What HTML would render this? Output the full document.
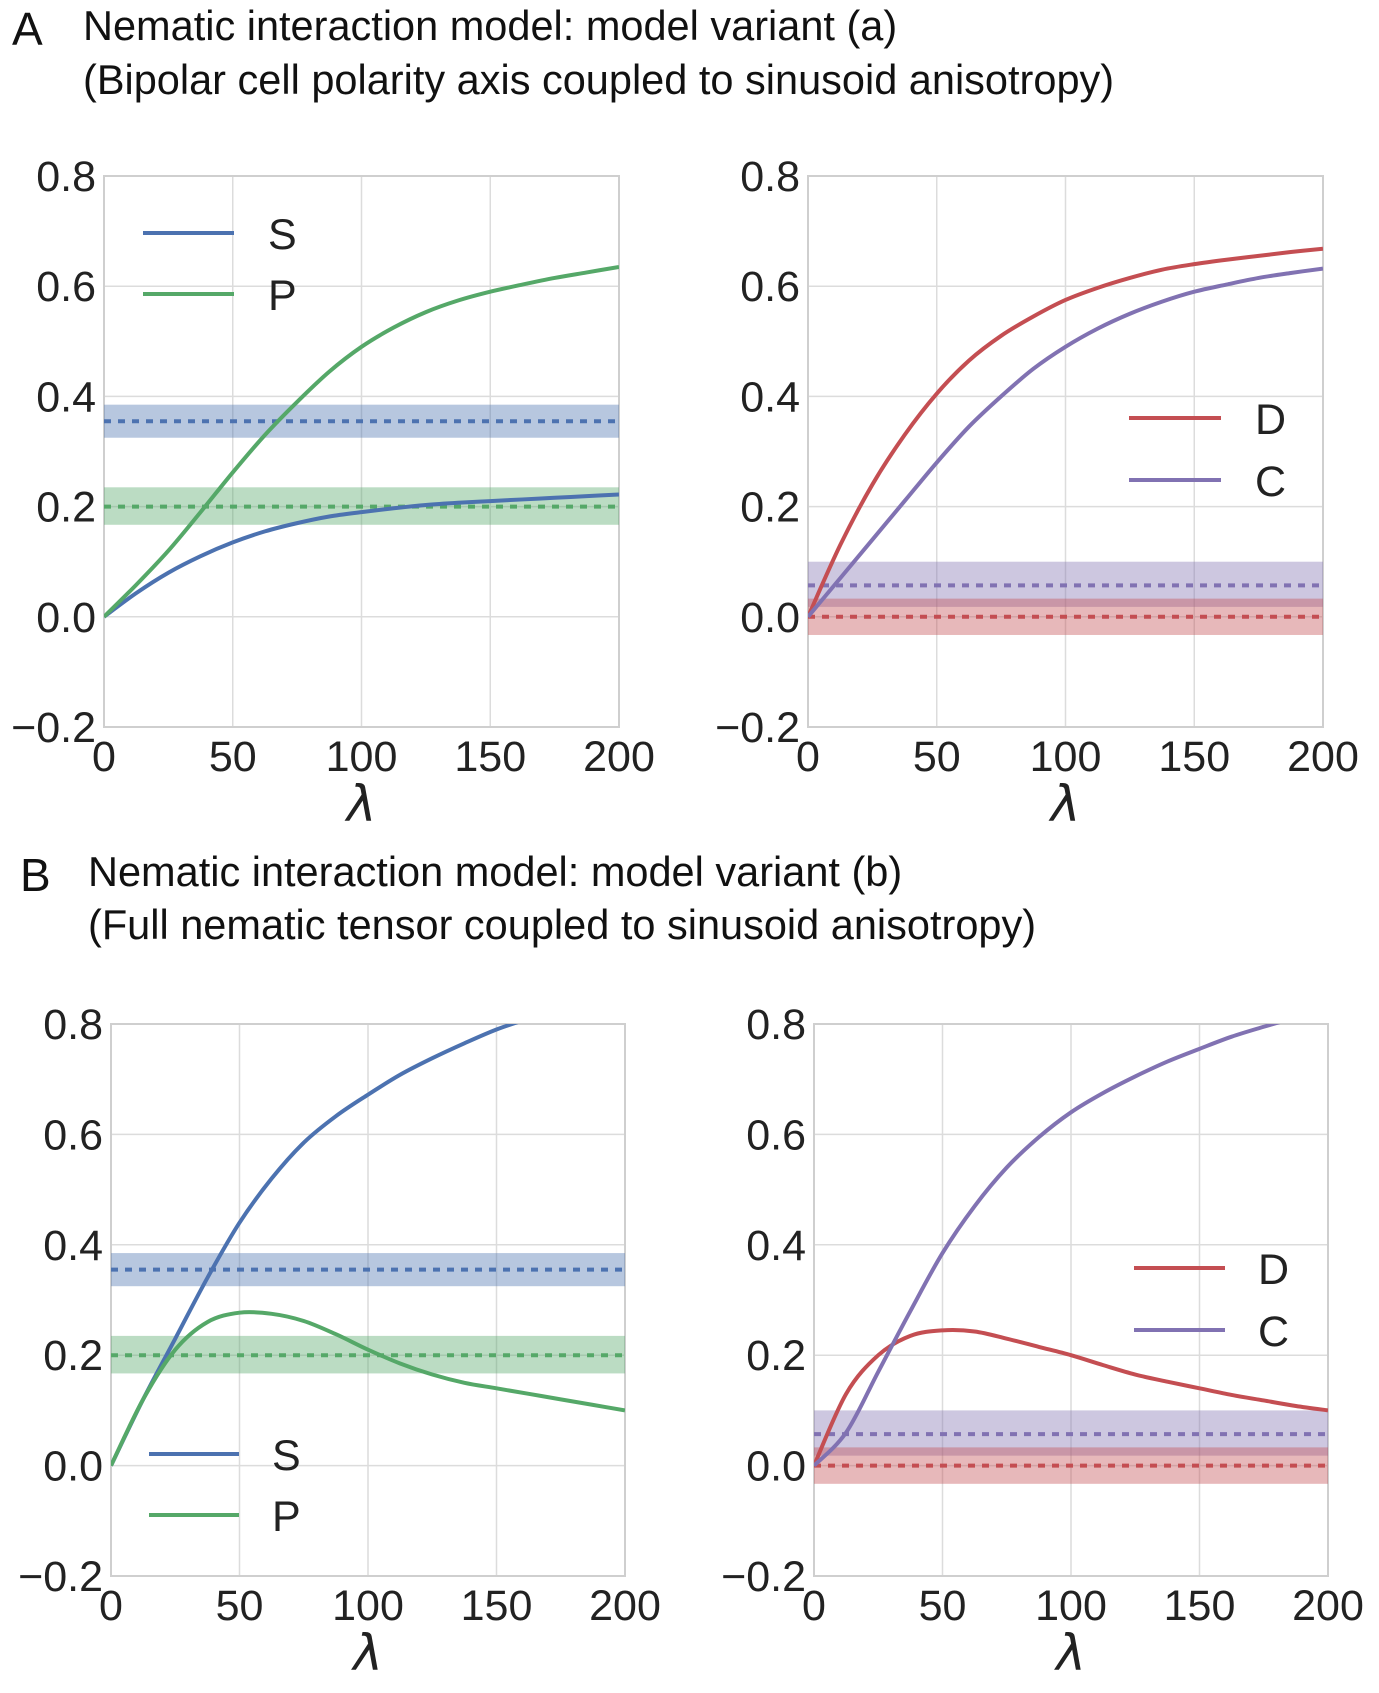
<!DOCTYPE html>
<html><head><meta charset="utf-8"><style>
body{margin:0;background:#fff;}
svg{display:block;font-family:"Liberation Sans",Arial,sans-serif;}
</style></head><body>
<svg id="fig" width="1379" height="1693" viewBox="0 0 1379 1693">
<text x="12" y="45" font-size="46" fill="#111">A</text>
<text x="83" y="40" font-size="41.5" fill="#111">Nematic interaction model: model variant (a)</text>
<text x="83" y="94" font-size="41.5" fill="#111">(Bipolar cell polarity axis coupled to sinusoid anisotropy)</text>
<text x="20" y="891" font-size="46" fill="#111">B</text>
<text x="88" y="886" font-size="41.5" fill="#111">Nematic interaction model: model variant (b)</text>
<text x="88" y="939" font-size="41.5" fill="#111">(Full nematic tensor coupled to sinusoid anisotropy)</text>
</svg>
<script>
const xs = [0,12.5,25,37.5,50,62.5,75,87.5,100,112.5,125,137.5,150,162.5,175,187.5,200];
const yTicks = [-0.2,0.0,0.2,0.4,0.6,0.8];
const yTickLabels = ["\u22120.2","0.0","0.2","0.4","0.6","0.8"];
const xTicks = [0,50,100,150,200];
const aS = [0,0.043,0.08,0.11,0.135,0.155,0.17,0.182,0.19,0.197,0.203,0.207,0.21,0.213,0.216,0.219,0.222];
const aP = [0,0.058,0.12,0.19,0.262,0.33,0.39,0.445,0.49,0.525,0.553,0.574,0.59,0.603,0.615,0.625,0.635];
const aD = [0,0.13,0.24,0.33,0.405,0.465,0.51,0.545,0.575,0.597,0.615,0.63,0.64,0.648,0.655,0.662,0.668];
const aC = [0,0.07,0.14,0.21,0.28,0.345,0.40,0.45,0.49,0.523,0.55,0.572,0.59,0.603,0.615,0.624,0.632];
const bS = [0,0.12,0.23,0.34,0.44,0.52,0.585,0.633,0.672,0.708,0.738,0.765,0.79,0.81,0.83,0.845,0.86];
const bP = [0,0.12,0.21,0.26,0.277,0.275,0.262,0.238,0.21,0.185,0.165,0.15,0.14,0.13,0.12,0.11,0.1];
const bD = [0,0.13,0.2,0.235,0.245,0.243,0.23,0.215,0.2,0.182,0.165,0.152,0.14,0.128,0.118,0.108,0.1];
const bC = [0,0.06,0.17,0.28,0.385,0.47,0.54,0.595,0.64,0.675,0.705,0.732,0.755,0.777,0.795,0.812,0.83];
const bandS = [0.325,0.355,0.385];
const bandP = [0.167,0.2,0.235];
const bandC = [0.018,0.057,0.1];
const bandD = [-0.033,0,0.033];
const COL={S:"#4c72b0",P:"#55a868",D:"#c44e52",C:"#8172b2"};
const NS="http://www.w3.org/2000/svg";
const svg=document.getElementById('fig');
function mk(tag,attrs,parent){const e=document.createElementNS(NS,tag);for(const k in attrs)e.setAttribute(k,attrs[k]);(parent||svg).appendChild(e);return e;}
const panels=[
 {id:"a-left",x0:104,x1:619,y0:176,y1:727,series:[["S",aS],["P",aP]],bands:[["S",bandS],["P",bandP]],leg:{x1:143,x2:234,ys:[233,294],tx:268}},
 {id:"a-right",x0:808,x1:1323,y0:176,y1:727,series:[["D",aD],["C",aC]],bands:[["C",bandC],["D",bandD]],leg:{x1:1129,x2:1221,ys:[418,480],tx:1255}},
 {id:"b-left",x0:111,x1:625,y0:1024,y1:1576,series:[["S",bS],["P",bP]],bands:[["S",bandS],["P",bandP]],leg:{x1:149,x2:239,ys:[1454,1515],tx:272}},
 {id:"b-right",x0:814,x1:1328,y0:1024,y1:1576,series:[["D",bD],["C",bC]],bands:[["C",bandC],["D",bandD]],leg:{x1:1134,x2:1225,ys:[1268,1330],tx:1258}}
];
panels.forEach(p=>{
 const X=v=>p.x0+(v/200)*(p.x1-p.x0);
 const Y=v=>p.y1-((v+0.2)/1.0)*(p.y1-p.y0);
 const g=mk('g',{});
 
 
 const cid='clip-'+p.id;
 const cp=mk('clipPath',{id:cid},g);mk('rect',{x:p.x0,y:p.y0,width:p.x1-p.x0,height:p.y1-p.y0},cp);
 xTicks.forEach(t=>{const l=mk('line',{x1:X(t),x2:X(t),y1:p.y0,y2:p.y1,stroke:"#dcdcdc","stroke-width":1.5},g);
  const tx=mk('text',{x:X(t),y:p.y1+44,"font-size":43,"text-anchor":"middle",fill:"#222"},g);tx.textContent=t;});
 yTicks.forEach((t,i)=>{const l=mk('line',{x1:p.x0,x2:p.x1,y1:Y(t),y2:Y(t),stroke:"#dcdcdc","stroke-width":1.5},g);
  const tx=mk('text',{x:p.x0-8,y:Y(t)+15,"font-size":43,"text-anchor":"end",fill:"#222"},g);tx.textContent=yTickLabels[i];});
 const fr=mk('rect',{x:p.x0,y:p.y0,width:p.x1-p.x0,height:p.y1-p.y0,fill:"none",stroke:"#cfcfcf","stroke-width":2},g);
 p.bands.forEach(([k,b])=>{
  const r=mk('rect',{x:p.x0,y:Y(b[2]),width:p.x1-p.x0,height:Y(b[0])-Y(b[2]),fill:COL[k],"fill-opacity":0.4},g);
  
  const l=mk('line',{x1:p.x0,x2:p.x1,y1:Y(b[1]),y2:Y(b[1]),stroke:COL[k],"stroke-width":4,"stroke-dasharray":"7 7"},g);
  
 });
 p.series.forEach(([k,vals])=>{
  const pts=xs.map((x,i)=>[X(x),Y(vals[i])]);
  let d="M"+pts[0][0]+","+pts[0][1];
  for(let i=0;i<pts.length-1;i++){const p0=pts[Math.max(0,i-1)],p1=pts[i],p2=pts[i+1],p3=pts[Math.min(pts.length-1,i+2)];
   const c1=[p1[0]+(p2[0]-p0[0])/6,p1[1]+(p2[1]-p0[1])/6],c2=[p2[0]-(p3[0]-p1[0])/6,p2[1]-(p3[1]-p1[1])/6];
   d+=" C"+c1+" "+c2+" "+p2;}
  const pa=mk('path',{d:d,fill:"none",stroke:COL[k],"stroke-width":4,"clip-path":"url(#"+cid+")"},g);
  
 });
 p.series.forEach(([k],i)=>{
  const l=mk('line',{x1:p.leg.x1,x2:p.leg.x2,y1:p.leg.ys[i],y2:p.leg.ys[i],stroke:COL[k],"stroke-width":4},g);
  
  const t=mk('text',{x:p.leg.tx,y:p.leg.ys[i]+16,"font-size":43,fill:"#222"},g);t.textContent=k;
  
 });
 const xl=mk('text',{x:(p.x0+p.x1)/2,y:p.y1+94,"font-size":50,"font-style":"italic","text-anchor":"middle",fill:"#222","font-family":"'DejaVu Sans',sans-serif"},g);
 xl.textContent="λ";
});
</script>
</body></html>
